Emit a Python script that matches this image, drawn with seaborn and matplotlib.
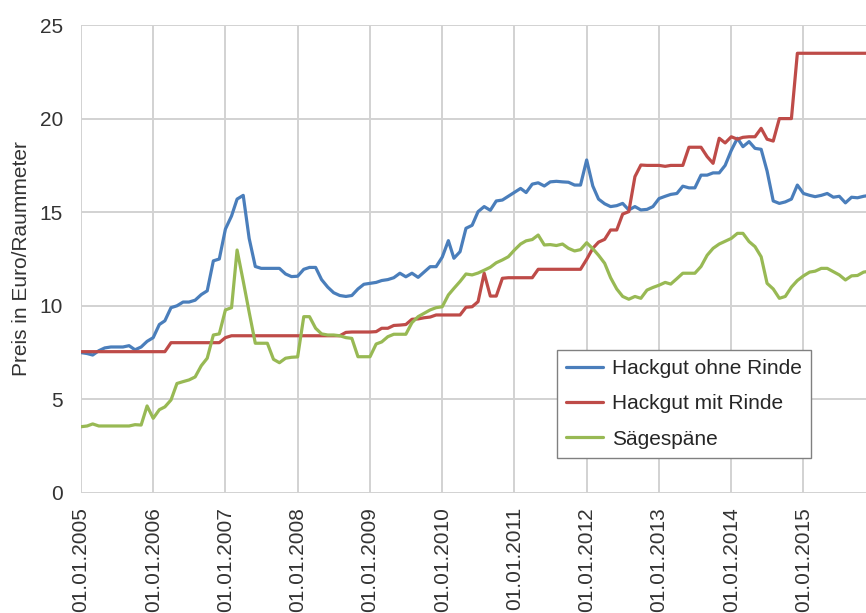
import pandas as pd
import matplotlib.pyplot as plt
import matplotlib.dates as mdates
import seaborn as sns

# monthly prices, Jan 2005 - Dec 2015
dates = pd.date_range("2005-01-01", periods=132, freq="MS")

hackgut_ohne_rinde = [
    7.5, 7.45, 7.37, 7.6, 7.75, 7.8, 7.8, 7.8, 7.87, 7.65, 7.8, 8.1,            # 2005
    8.3, 9.0, 9.2, 9.9, 10.0, 10.2, 10.2, 10.3, 10.6, 10.8, 12.4, 12.5,         # 2006
    14.1, 14.8, 15.7, 15.9, 13.6, 12.1, 12.0, 12.0, 12.0, 12.0, 11.7, 11.56,    # 2007
    11.58, 11.95, 12.05, 12.05, 11.4, 11.0, 10.7, 10.55, 10.5, 10.55, 10.9, 11.15,  # 2008
    11.2, 11.25, 11.35, 11.4, 11.5, 11.74, 11.55, 11.74, 11.52, 11.8, 12.09, 12.09,  # 2009
    12.6, 13.48, 12.54, 12.89, 14.14, 14.3, 15.03, 15.3, 15.1, 15.6, 15.65, 15.85,   # 2010
    16.06, 16.27, 16.05, 16.5, 16.57, 16.4, 16.62, 16.65, 16.62, 16.6, 16.45, 16.45,  # 2011
    17.79, 16.4, 15.7, 15.45, 15.3, 15.35, 15.47, 15.12, 15.3, 15.12, 15.15, 15.3,   # 2012
    15.73, 15.85, 15.95, 16.0, 16.39, 16.3, 16.3, 16.98, 16.98, 17.1, 17.1, 17.5,    # 2013
    18.3, 18.95, 18.5, 18.77, 18.41, 18.36, 17.2, 15.6, 15.47, 15.55, 15.7, 16.45,   # 2014
    16.0, 15.9, 15.83, 15.9, 16.0, 15.8, 15.85, 15.5, 15.8, 15.77, 15.85, 15.9,      # 2015
]

hackgut_mit_rinde = [
    7.55, 7.55, 7.55, 7.55, 7.55, 7.55, 7.55, 7.55, 7.55, 7.55, 7.55, 7.55,
    7.55, 7.55, 7.55, 8.03, 8.03, 8.03, 8.03, 8.03, 8.03, 8.03, 8.03, 8.03,
    8.3, 8.4, 8.4, 8.4, 8.4, 8.4, 8.4, 8.4, 8.4, 8.4, 8.4, 8.4,
    8.4, 8.4, 8.4, 8.4, 8.4, 8.4, 8.4, 8.4, 8.58, 8.6, 8.6, 8.6,
    8.6, 8.62, 8.8, 8.8, 8.95, 8.97, 9.0, 9.28, 9.3, 9.36, 9.4, 9.51,
    9.51, 9.51, 9.51, 9.51, 9.92, 9.95, 10.22, 11.74, 10.52, 10.52, 11.47, 11.5,
    11.5, 11.5, 11.5, 11.5, 11.95, 11.95, 11.95, 11.95, 11.95, 11.95, 11.95, 11.95,
    12.48, 13.07, 13.4, 13.55, 14.05, 14.05, 14.9, 15.03, 16.9, 17.52, 17.5, 17.5,
    17.5, 17.45, 17.5, 17.5, 17.5, 18.47, 18.47, 18.47, 17.97, 17.61, 18.95, 18.7,
    19.03, 18.9, 19.0, 19.03, 19.03, 19.48, 18.9, 18.8, 20.0, 20.0, 20.0, 23.49,
    23.49, 23.49, 23.49, 23.49, 23.49, 23.49, 23.49, 23.49, 23.49, 23.49, 23.49, 23.49,
]

saegespaene = [
    3.54, 3.58, 3.69, 3.58, 3.58, 3.58, 3.58, 3.58, 3.58, 3.65, 3.63, 4.65,
    3.99, 4.45, 4.6, 4.97, 5.85, 5.95, 6.04, 6.2, 6.8, 7.2, 8.44, 8.5,
    9.78, 9.9, 12.98, 11.32, 9.66, 8.0, 8.0, 8.0, 7.14, 6.96, 7.2, 7.25,
    7.27, 9.42, 9.42, 8.8, 8.5, 8.44, 8.44, 8.4, 8.3, 8.26, 7.28, 7.28,
    7.28, 7.96, 8.07, 8.35, 8.48, 8.48, 8.48, 9.1, 9.42, 9.6, 9.78, 9.9,
    9.95, 10.58, 10.93, 11.3, 11.7, 11.65, 11.75, 11.9, 12.06, 12.3, 12.45, 12.62,
    12.98, 13.3, 13.47, 13.54, 13.78, 13.25, 13.27, 13.22, 13.3, 13.07, 12.93, 13.0,
    13.37, 13.05, 12.7, 12.27, 11.5, 10.9, 10.5, 10.35, 10.5, 10.4, 10.84, 10.98,
    11.1, 11.25, 11.16, 11.45, 11.74, 11.74, 11.74, 12.1, 12.7, 13.07, 13.3, 13.45,
    13.6, 13.87, 13.87, 13.43, 13.16, 12.62, 11.2, 10.9, 10.4, 10.5, 11.0, 11.35,
    11.6, 11.8, 11.85, 12.0, 12.0, 11.82, 11.65, 11.38, 11.6, 11.62, 11.8, 11.85,
]

sorten = ["Hackgut ohne Rinde", "Hackgut mit Rinde", "Sägespäne"]
farben = ["#4a7ebb", "#be4b48", "#98b954"]

df = pd.DataFrame({
    "Datum": dates,
    sorten[0]: hackgut_ohne_rinde,
    sorten[1]: hackgut_mit_rinde,
    sorten[2]: saegespaene,
})
long = df.melt(id_vars="Datum", var_name="Sorte", value_name="Preis")

sns.set_style("white")
plt.rcParams["font.family"] = ["Liberation Sans", "DejaVu Sans"]

grid_col = "#d2d2d2"
fig = plt.figure(figsize=(8.66, 6.13), dpi=100)
ax = fig.add_axes([81 / 866, 120 / 613, 785 / 866, 468 / 613])

sns.lineplot(data=long, x="Datum", y="Preis", hue="Sorte", hue_order=sorten,
             palette=farben, linewidth=2.3, ax=ax)

ax.set_ylim(0, 25)
ax.set_yticks([0, 5, 10, 15, 20, 25])
ax.set_xlim(pd.Timestamp("2005-01-01"), pd.Timestamp("2015-11-13"))
ax.xaxis.set_major_locator(mdates.YearLocator())
ax.xaxis.set_major_formatter(mdates.DateFormatter("%d.%m.%Y"))

ax.grid(True, color=grid_col, linewidth=1.4)
ax.set_axisbelow(True)
for s in ax.spines.values():
    s.set_visible(False)

ax.tick_params(axis="both", length=6, width=1.4, color=grid_col,
               labelsize=15, labelcolor="#333333")
ax.tick_params(axis="y", pad=7)
ax.tick_params(axis="x", pad=4, labelrotation=90)

ax.set_xlabel("")
ax.set_ylabel("Preis in Euro/Raummeter", fontsize=15, color="#333333", labelpad=6)

ax.legend(loc="lower right", bbox_to_anchor=(0.930, 0.075), borderaxespad=0,
          frameon=True, fancybox=False, edgecolor="#808080", framealpha=1,
          fontsize=15, handlelength=1.8, handletextpad=0.4, labelspacing=0.78,
          borderpad=0.45)

fig.savefig("out.png", dpi=100)
